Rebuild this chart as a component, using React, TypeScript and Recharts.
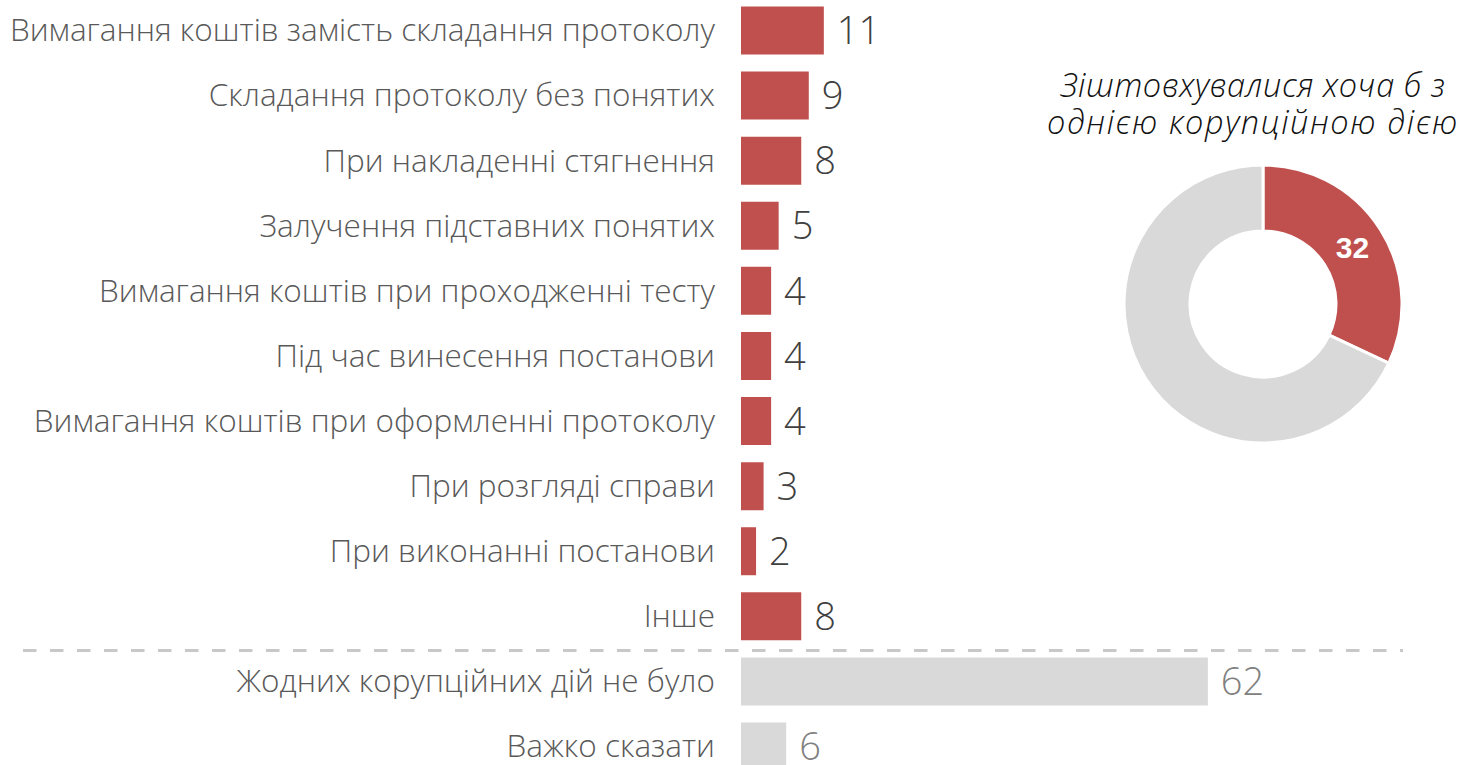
import React from "react";
import { BarChart, Bar, XAxis, YAxis, Cell, LabelList, PieChart, Pie } from "recharts";

const categories = [
  "Вимагання коштів замість складання протоколу",
  "Складання протоколу без понятих",
  "При накладенні стягнення",
  "Залучення підставних понятих",
  "Вимагання коштів при проходженні тесту",
  "Під час винесення постанови",
  "Вимагання коштів при оформленні протоколу",
  "При розгляді справи",
  "При виконанні постанови",
  "Інше",
  "Жодних корупційних дій не було",
  "Важко сказати",
];
const values = [11, 9, 8, 5, 4, 4, 4, 3, 2, 8, 62, 6];
const isCorruptAction = [true, true, true, true, true, true, true, true, true, true, false, false];

const donutNames = ["Зіштовхувалися хоча б з однією корупційною дією", "Інші"];
const donutValues = [32, 68];
const donutTitleLines = ["Зіштовхувалися хоча б з", "однією корупційною дією"];

const RED = "#c0504d";
const GREY = "#d9d9d9";
const FONT = "'Open Sans', 'DejaVu Sans', sans-serif";

const rows = categories.map((name, i) => ({ name, value: values[i], corrupt: isCorruptAction[i] }));
const donutData = donutNames.map((name, i) => ({ name, value: donutValues[i] }));

const CategoryTick = (props: any) => {
  const { x, y, payload } = props;
  return (
    <text x={x} y={y} dy="0.36em" textAnchor="end" fill="#595959" fontSize={31.5} fontWeight={350} fontFamily={FONT}>
      {payload.value}
    </text>
  );
};

const ValueLabel = (props: any) => {
  const { x, y, width, height, value, index } = props;
  const corrupt = isCorruptAction[index];
  return (
    <text
      x={x + width + 13}
      y={y + height / 2}
      dy="0.36em"
      textAnchor="start"
      fill={corrupt ? "#404040" : "#808080"}
      fontSize={38}
      fontWeight={300}
      fontFamily={FONT}
    >
      {value}
    </text>
  );
};

const DonutLabel = (props: any) => {
  const { cx, cy, midAngle, innerRadius, outerRadius, value, index } = props;
  if (index !== 0) return null;
  const r = (innerRadius + outerRadius) / 2;
  const rad = (Math.PI / 180) * midAngle;
  const lx = cx + r * Math.cos(rad);
  const ly = cy - r * Math.sin(rad);
  return (
    <text x={lx} y={ly} dy="0.36em" textAnchor="middle" fill="#ffffff" fontSize={30} fontWeight={700} fontFamily="'Liberation Sans', Arial, sans-serif">
      {value}
    </text>
  );
};

export default function App() {
  return (
    <div style={{ position: "absolute", left: 0, top: 0, width: 1462, height: 765, overflow: "hidden", background: "#fff" }}>
      <div style={{ position: "absolute", left: 0, top: 0 }}>
        <BarChart
          layout="vertical"
          width={1462}
          height={800}
          data={rows}
          margin={{ top: -2.5, right: 118.6, bottom: 21.4, left: 0 }}
        >
          <XAxis type="number" domain={[0, 80]} hide />
          <YAxis
            type="category"
            dataKey="name"
            width={741}
            axisLine={false}
            tickLine={false}
            tickSize={0}
            tickMargin={26}
            interval={0}
            tick={<CategoryTick />}
          />
          <Bar dataKey="value" barSize={48} isAnimationActive={false}>
            {rows.map((r, i) => (
              <Cell key={i} fill={r.corrupt ? RED : GREY} />
            ))}
            <LabelList dataKey="value" content={<ValueLabel />} />
          </Bar>
        </BarChart>
      </div>
      <svg style={{ position: "absolute", left: 0, top: 0 }} width={1462} height={765} pointerEvents="none">
        <line x1={23} y1={650.5} x2={1403} y2={650.5} stroke="#c8c8c8" strokeWidth={3} strokeDasharray="13.5 13.5" />
      </svg>
      <div
        style={{
          position: "absolute",
          left: 1040,
          top: 66,
          width: 426,
          textAlign: "center",
          fontFamily: FONT,
          fontStyle: "italic",
          fontWeight: 350,
          fontSize: 32.5,
          lineHeight: "37px",
          color: "#111111",
          whiteSpace: "nowrap",
        }}
      >
        <div style={{ letterSpacing: 0.6 }}>{donutTitleLines[0]}</div>
        <div style={{ letterSpacing: 1.6 }}>{donutTitleLines[1]}</div>
      </div>
      <div style={{ position: "absolute", left: 1113, top: 154 }}>
        <PieChart width={300} height={300} margin={{ top: 0, right: 0, bottom: 0, left: 0 }}>
          <Pie
            data={donutData}
            dataKey="value"
            nameKey="name"
            cx={150}
            cy={150}
            innerRadius={73}
            outerRadius={139}
            startAngle={90}
            endAngle={-270}
            stroke="#ffffff"
            strokeWidth={3}
            isAnimationActive={false}
            labelLine={false}
            label={DonutLabel}
          >
            {donutData.map((d, i) => (
              <Cell key={i} fill={i === 0 ? RED : GREY} />
            ))}
          </Pie>
        </PieChart>
      </div>
    </div>
  );
}
